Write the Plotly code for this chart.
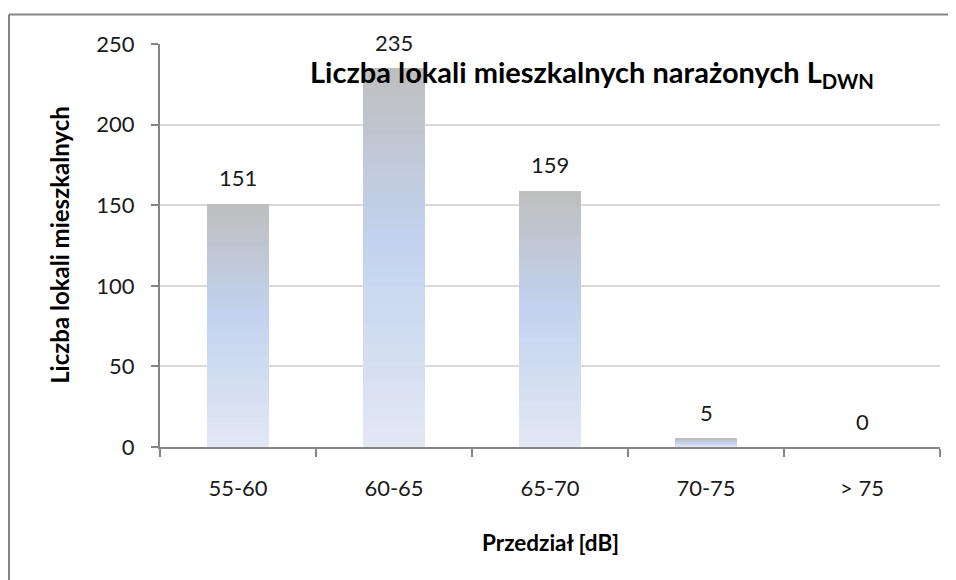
import plotly.graph_objects as go

categories = ["55-60", "60-65", "65-70", "70-75", "> 75"]
values = [151, 235, 159, 5, 0]
y_ticks = [0, 50, 100, 150, 200, 250]
title_text = "<b>Liczba lokali mieszkalnych narażonych L<sub>DWN</sub></b>"
y_title = "<b>Liczba lokali mieszkalnych</b>"
x_title = "<b>Przedział [dB]</b>"

FONT = "Lato"
AXIS_COLOR = "#868686"
GRID_COLOR = "#d9d9d9"

# gradient stops: bottom -> top
stops = [(0.0, (0xE2, 0xE8, 0xF4)), (0.55, (0xC2, 0xD2, 0xEE)), (1.0, (0xBE, 0xBE, 0xBE))]


def grad_color(t):
    for (t0, c0), (t1, c1) in zip(stops[:-1], stops[1:]):
        if t0 <= t <= t1:
            f = (t - t0) / (t1 - t0)
            c = [round(a + (b - a) * f) for a, b in zip(c0, c1)]
            return "rgb(%d,%d,%d)" % tuple(c)
    return "rgb(%d,%d,%d)" % stops[-1][1]


N = 40
fig = go.Figure()
for k in range(N):
    fig.add_trace(go.Bar(
        x=categories,
        y=[v / N for v in values],
        marker=dict(color=grad_color((k + 0.5) / N), line=dict(width=0)),
        width=0.4,
        hoverinfo="skip",
        showlegend=False,
    ))

for c, v in zip(categories, values):
    fig.add_annotation(x=c, y=v, text=str(v), showarrow=False, yanchor="middle",
                       yshift=26, font=dict(family=FONT, size=22, color="#1a1a1a"))

fig.add_annotation(xref="paper", yref="paper", x=0.554, y=0.9256, text=title_text,
                   showarrow=False, xanchor="center", yanchor="middle",
                   font=dict(family=FONT, size=29, color="#000000"))
fig.add_annotation(xref="paper", yref="paper", x=-0.128, y=0.502, text=y_title,
                   showarrow=False, textangle=-90, xanchor="center", yanchor="middle",
                   font=dict(family=FONT, size=24, color="#000000"))
fig.add_annotation(xref="paper", yref="paper", x=0.5, y=-0.238, text=x_title,
                   showarrow=False, xanchor="center", yanchor="middle",
                   font=dict(family=FONT, size=22.5, color="#000000"))

# outer chart-area border: only top and left edges are visible in the picture
fig.add_shape(type="line", xref="paper", yref="paper", x0=-0.1936, x1=1.3, y0=1.0732, y1=1.0732,
              line=dict(color=AXIS_COLOR, width=2), layer="below")
fig.add_shape(type="line", xref="paper", yref="paper", x0=-0.1936, x1=-0.1936, y0=-0.6, y1=1.0732,
              line=dict(color=AXIS_COLOR, width=2), layer="below")

fig.update_layout(
    width=956, height=580,
    margin=dict(l=152, r=24, t=36, b=141),
    barmode="stack",
    bargap=0.6,
    plot_bgcolor="white", paper_bgcolor="white",
    font=dict(family=FONT, size=22, color="#1a1a1a"),
    showlegend=False,
)
fig.update_xaxes(
    type="category", range=[-0.5, 4.5],
    showline=True, linecolor=AXIS_COLOR, linewidth=2,
    ticks="outside", tickson="boundaries", ticklen=8, tickcolor=AXIS_COLOR, tickwidth=2,
    showgrid=False, ticklabelstandoff=21,
    tickfont=dict(family=FONT, size=22, color="#1a1a1a"),
)
fig.update_yaxes(
    range=[0, 250], tickvals=y_ticks,
    showline=True, linecolor=AXIS_COLOR, linewidth=2,
    ticks="outside", ticklen=7, tickcolor=AXIS_COLOR, tickwidth=2,
    showgrid=True, gridcolor=GRID_COLOR, gridwidth=1.5, zeroline=False,
    ticklabelstandoff=12,
    tickfont=dict(family=FONT, size=22, color="#1a1a1a"),
)

fig.write_html("out.html")
